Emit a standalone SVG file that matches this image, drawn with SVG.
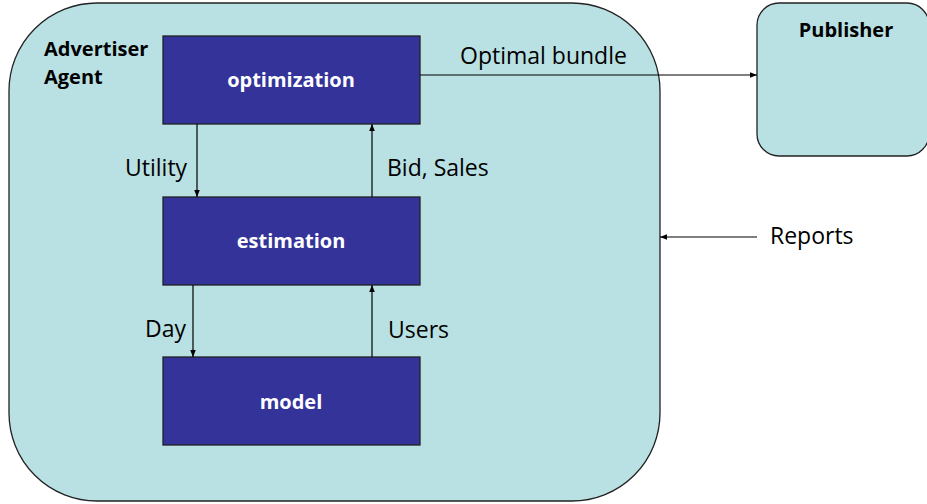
<svg xmlns="http://www.w3.org/2000/svg" width="927" height="504" viewBox="0 0 927 504">
<defs>
<marker id="ah" viewBox="0 0 10 10" refX="10" refY="5" markerWidth="7" markerHeight="7" markerUnits="userSpaceOnUse" orient="auto">
<path d="M0,1 L10,5 L0,9 z" fill="#000"/>
</marker>
<style>
.cont{fill:#B9E0E3;stroke:#222;stroke-width:1.3}
.box{fill:#333399;stroke:#222;stroke-width:1.3}
.bl{font-family:"Open Sans",Lato,sans-serif;font-weight:bold;font-size:20px;fill:#fff;text-anchor:middle}
.hd{font-family:"Open Sans",Lato,sans-serif;font-weight:bold;font-size:20px;fill:#000}
.lb{font-family:"Open Sans",Lato,sans-serif;font-size:23px;fill:#000}
.cn{stroke:#000;stroke-width:1.2;fill:none;marker-end:url(#ah)}
</style>
</defs>
<g id="advertiser-agent">
<rect class="cont" x="9" y="3" width="651" height="498" rx="88" ry="88"/>
<text class="hd" x="44" y="56">Advertiser</text>
<text class="hd" x="44" y="84">Agent</text>
</g>
<g id="publisher">
<rect class="cont" x="757" y="3" width="172" height="153" rx="22" ry="22"/>
<text class="hd" x="846" y="37" text-anchor="middle">Publisher</text>
</g>
<g id="optimization">
<rect class="box" x="163" y="36" width="257" height="88"/>
<text class="bl" x="291" y="87">optimization</text>
</g>
<g id="estimation">
<rect class="box" x="163" y="197" width="257" height="88"/>
<text class="bl" x="291" y="248">estimation</text>
</g>
<g id="model">
<rect class="box" x="163" y="357" width="257" height="88"/>
<text class="bl" x="291" y="409">model</text>
</g>
<g id="connectors">
<line class="cn" x1="197" y1="124" x2="197" y2="197"/>
<line class="cn" x1="372" y1="197" x2="372" y2="124"/>
<line class="cn" x1="193" y1="285" x2="193" y2="357"/>
<line class="cn" x1="372" y1="357" x2="372" y2="285"/>
<line class="cn" x1="420" y1="75" x2="757" y2="75"/>
<line class="cn" x1="757" y1="237" x2="660" y2="237"/>
<text class="lb" x="125" y="176">Utility</text>
<text class="lb" x="387" y="176">Bid, Sales</text>
<text class="lb" x="145" y="337">Day</text>
<text class="lb" x="388" y="338">Users</text>
<text class="lb" x="460" y="64">Optimal bundle</text>
<text class="lb" x="770" y="244">Reports</text>
</g>
</svg>
